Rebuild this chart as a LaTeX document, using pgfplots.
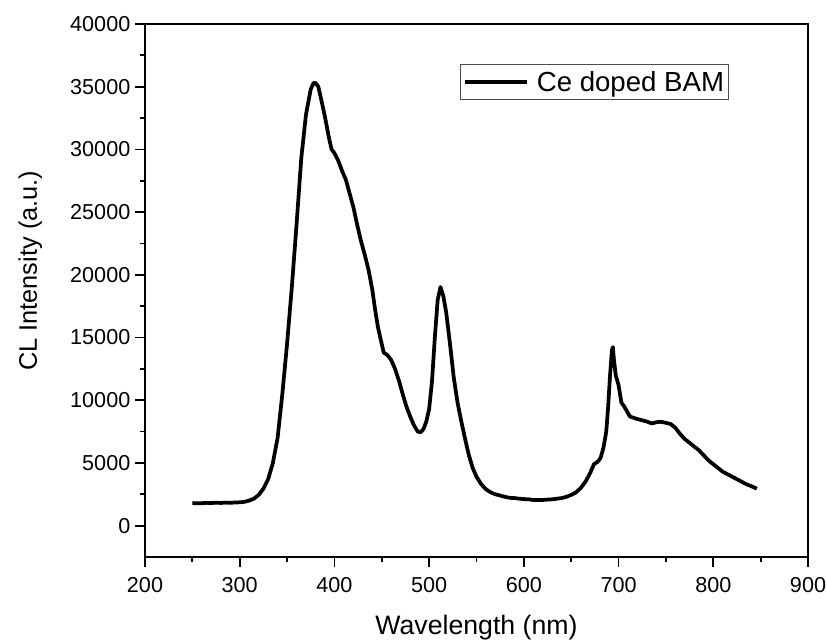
\documentclass[border=0pt]{standalone}
\usepackage{fontspec}
\setmainfont{Liberation Sans}
\usepackage{pgfplots}
\pgfplotsset{compat=1.18}
\pgfplotstableread{
x y
250 1800
255 1780
260 1790
265 1820
270 1800
275 1830
280 1810
285 1840
290 1820
295 1850
300 1860
305 1900
310 2000
315 2150
320 2450
325 2950
330 3700
335 5000
340 7000
345 10500
350 14500
355 19000
360 24000
365 29300
370 32800
375 34800
378 35300
380 35300
383 35000
386 34000
390 32600
394 31000
397 30000
400 29700
404 29100
408 28300
412 27600
416 26500
420 25400
424 24000
428 22700
432 21600
436 20400
440 18800
443 17200
446 15800
449 14800
452 13800
456 13600
460 13200
464 12500
468 11600
472 10500
476 9500
480 8700
484 8000
488 7500
491 7450
494 7700
497 8300
500 9300
503 11500
506 15000
509 18000
512 19030
515 18300
518 17000
522 14500
526 11800
530 9800
534 8300
538 6900
542 5600
546 4600
550 3900
555 3300
560 2900
565 2650
570 2500
575 2400
580 2300
585 2220
590 2200
595 2150
600 2120
605 2100
610 2050
615 2050
620 2050
625 2080
630 2100
635 2150
640 2200
645 2300
650 2450
655 2650
660 3000
665 3500
670 4200
674 4900
678 5100
681 5400
684 6200
687 7500
689 9500
691 12000
693 14000
694 14240
695 13300
697 12000
700 11200
703 9800
706 9500
709 9100
712 8700
716 8600
720 8500
725 8400
730 8300
735 8150
740 8250
745 8280
750 8200
755 8100
760 7800
765 7300
770 6900
775 6600
780 6300
785 6000
790 5600
795 5200
800 4900
805 4600
810 4300
815 4100
820 3900
825 3700
830 3500
835 3300
840 3150
846 2950
}\spectrum
\begin{document}
\begin{tikzpicture}
\begin{axis}[
  scale only axis,
  width=497.25pt, height=399.75pt,
  xmin=200, xmax=900, ymin=-2500, ymax=40000,
  xtick={200,300,...,900},
  ytick={0,5000,...,40000},
  minor x tick num=1, minor y tick num=1,
  tick align=outside,
  xtick pos=bottom, ytick pos=left,
  major tick length=7.5pt, minor tick length=3.75pt,
  axis line style={line width=1.3pt},
  every tick/.style={line width=1.3pt, black},
  scaled y ticks=false,
  /pgf/number format/1000 sep={},
  /pgf/number format/assume math mode=true,
  tick label style={font=\fontsize{16.2}{19}\selectfont},
  xticklabel style={yshift=-4.5pt},
  xlabel={Wavelength (nm)},
  ylabel={CL Intensity (a.u.)},
  every axis x label/.style={at={(axis description cs:0.5,-0.146)}, anchor=base, font=\fontsize{20}{24}\selectfont},
  every axis y label/.style={at={(axis description cs:-0.163,0.537)}, anchor=base, rotate=90, font=\fontsize{19}{23}\selectfont},
  legend style={at={(axis description cs:0.881,0.925)}, anchor=north east,
    draw=black!70, line width=0.6pt, font=\fontsize{20.7}{24}\selectfont,
    inner xsep=2pt, inner ysep=3pt, row sep=0pt,
    nodes={inner xsep=1.5pt}},
  legend image code/.code={\draw[#1, line width=2.4pt] (0pt,0pt) -- (46.5pt,0pt);},
  legend cell align=left,
]
\addplot[black, line width=2.8pt, line join=round] table[x=x,y=y] {\spectrum};
\addlegendentry{\hspace*{5pt}Ce doped BAM}
\coordinate (bl) at (rel axis cs:0,0);
\coordinate (tr) at (rel axis cs:1,1);
\end{axis}
\pgfresetboundingbox
\path[use as bounding box] ([shift={(-108.75pt,-61.5pt)}]bl) rectangle ([shift={(14.25pt,18pt)}]tr);
\end{tikzpicture}
\end{document}
